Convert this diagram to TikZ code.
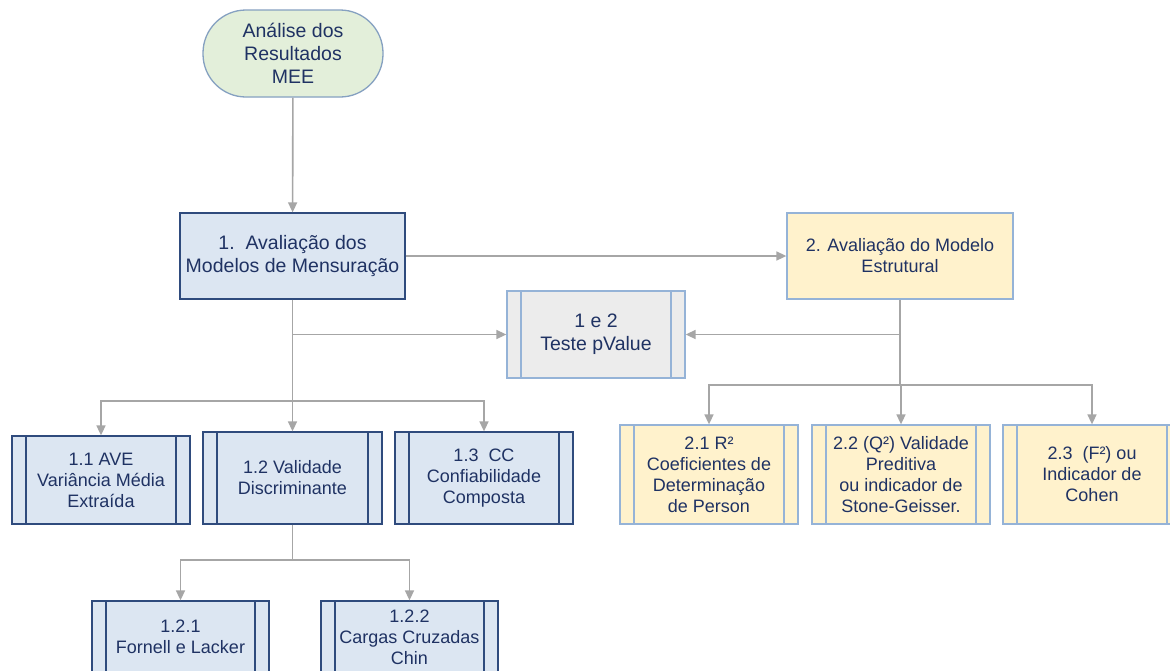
\documentclass[tikz,border=0pt]{standalone}
\usepackage{fontspec}
\setmainfont{Liberation Sans}
\usetikzlibrary{arrows.meta}

\definecolor{txt}{RGB}{31,50,99}
\definecolor{navy}{RGB}{47,75,125}
\definecolor{lblue}{RGB}{149,179,215}
\definecolor{fblue}{RGB}{220,230,242}
\definecolor{fyel}{RGB}{255,242,204}
\definecolor{fgray}{RGB}{236,236,236}
\definecolor{fgreen}{RGB}{227,239,218}
\definecolor{wire}{RGB}{166,166,166}

\tikzset{
  box/.style={draw, line width=1.3pt, align=center, inner sep=0pt, text=txt,
    font=\fontsize{18}{21}\selectfont},
  bigtext/.style={font=\fontsize{19.5}{23}\selectfont},
  % predefined-process boxes: frame with two inner vertical bars
  bluebars/.style={path picture={
    \draw[line width=1.3pt, navy]
      ([xshift=14pt]path picture bounding box.north west) -- ([xshift=14pt]path picture bounding box.south west)
      ([xshift=-14pt]path picture bounding box.north east) -- ([xshift=-14pt]path picture bounding box.south east);}},
  lightbars/.style={path picture={
    \draw[line width=1.3pt, lblue]
      ([xshift=14pt]path picture bounding box.north west) -- ([xshift=14pt]path picture bounding box.south west)
      ([xshift=-14pt]path picture bounding box.north east) -- ([xshift=-14pt]path picture bounding box.south east);}},
  measure/.style={box, draw=navy, fill=fblue},
  structural/.style={box, draw=lblue, fill=fyel},
  subblue/.style={box, draw=navy, fill=fblue, bluebars, minimum width=178pt},
  subyel/.style={box, draw=lblue, fill=fyel, lightbars, minimum width=178pt, minimum height=99pt},
  terminal/.style={box, bigtext, draw=lblue!90!black, fill=fgreen, rounded corners=43pt,
    minimum width=180pt, minimum height=87pt},
  wireline/.style={draw=wire, line width=1.6pt},
  conn/.style={wireline, -{Triangle[length=10pt, width=9pt]}},
}

\begin{document}
\begin{tikzpicture}[x=1pt, y=-1pt]
  \useasboundingbox (0,0) rectangle (1170,670);
  \fill[white] (0,0) rectangle (1170,670);
  \clip (0,0) rectangle (1170,670);

  % top of the flow
  \node[terminal] (start) at (293,53.5) {Análise dos\\Resultados\\MEE};
  \node[measure, bigtext, minimum width=225pt, minimum height=86pt] (m1) at (292.5,256)
    {1.\ \ Avaliação dos\\Modelos de Mensuração};
  \node[structural, minimum width=226pt, minimum height=86pt] (m2) at (900,256)
    {2. Avaliação do Modelo\\Estrutural};
  \node[box, bigtext, draw=lblue, fill=fgray, lightbars, minimum width=178pt, minimum height=87pt]
    (pv) at (596,334.5) {1 e 2\\Teste pValue};

  % measurement model branch
  \node[subblue, minimum height=88pt] (a11) at (101,480) {1.1 AVE\\Variância Média\\Extraída};
  \node[subblue, minimum width=179pt, minimum height=92pt] (a12) at (292.5,478) {1.2 Validade\\Discriminante};
  \node[subblue, minimum height=92pt] (a13) at (484,478) {1.3\ \ CC\\Confiabilidade\\Composta};
  \node[subblue, minimum width=177pt, minimum height=72pt] (c121) at (180.5,637) {1.2.1\\Fornell e Lacker};
  \node[subblue, minimum width=177pt, minimum height=72pt] (c122) at (409.5,637) {1.2.2\\Cargas Cruzadas\\Chin};

  % structural model branch
  \node[subyel] (b21) at (709,474.5) {2.1 R²\\Coeficientes de\\Determinação\\de Person};
  \node[subyel] (b22) at (901,474.5) {2.2 (Q²) Validade\\Preditiva\\ou indicador de\\Stone-Geisser.};
  \node[subyel] (b23) at (1092,474.5) {2.3\ \ (F²) ou\\Indicador de\\Cohen};

  % junction points
  \coordinate (j1) at (m1.south |- 0,401);
  \coordinate (j2) at (m2.south |- 0,385);
  \coordinate (j3) at (a12.south |- 0,560);
  \coordinate (jl) at (m1.south |- pv.west);
  \coordinate (jr) at (m2.south |- pv.east);

  % connectors
  \draw[conn] (start) -- (m1);
  \draw[conn] (m1) -- (m2);
  \draw[wireline] (m1.south) -- (j1);
  \draw[conn] (jl) -- (pv.west);
  \draw[conn] (j1) -| (a11.north);
  \draw[conn] (j1) -- (a12.north);
  \draw[conn] (j1) -| (a13.north);

  \draw[wireline] (m2.south) -- (j2);
  \draw[conn] (jr) -- (pv.east);
  \draw[conn] (j2) -| (b21.north);
  \draw[conn] (j2) -| (b22.north);
  \draw[conn] (j2) -| (b23.north);

  \draw[wireline] (a12.south) -- (j3);
  \draw[conn] (j3) -| (c121.north);
  \draw[conn] (j3) -| (c122.north);
\end{tikzpicture}
\end{document}
